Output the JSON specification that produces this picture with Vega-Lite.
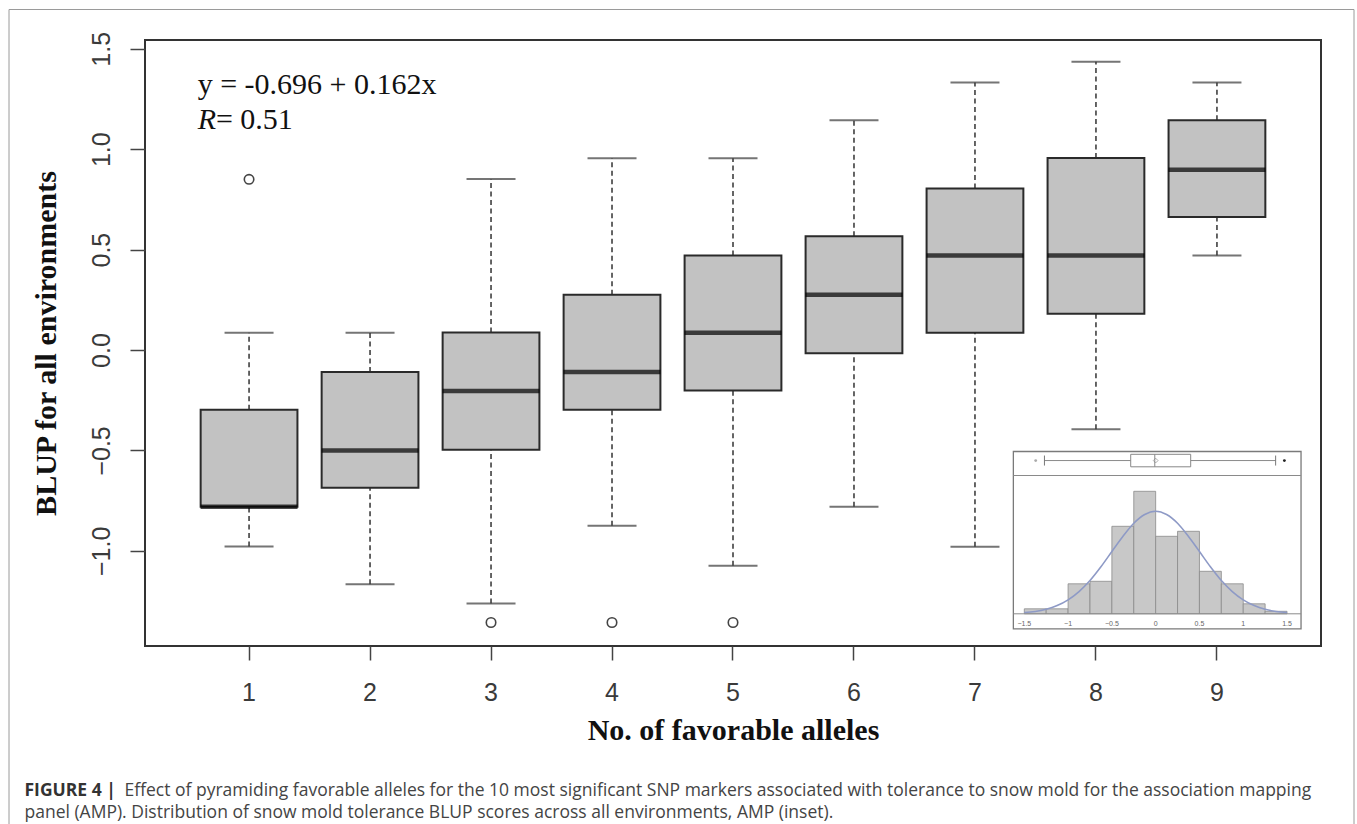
{
  "$schema": "https://vega.github.io/schema/vega-lite/v6.json",
  "width": 1176,
  "height": 606,
  "padding": {"left": 8, "top": 9, "right": 4, "bottom": 0},
  "background": "white",
  "datasets": {
    "boxes": [
      {"n": "1", "lower": -0.978, "q1": -0.78, "median": -0.78, "q3": -0.298, "upper": 0.086},
      {"n": "2", "lower": -1.166, "q1": -0.686, "median": -0.5, "q3": -0.11, "upper": 0.086},
      {"n": "3", "lower": -1.262, "q1": -0.497, "median": -0.204, "q3": 0.087, "upper": 0.852},
      {"n": "4", "lower": -0.875, "q1": -0.298, "median": -0.11, "q3": 0.275, "upper": 0.955},
      {"n": "5", "lower": -1.074, "q1": -0.202, "median": 0.086, "q3": 0.471, "upper": 0.955},
      {"n": "6", "lower": -0.78, "q1": -0.016, "median": 0.275, "q3": 0.566, "upper": 1.144},
      {"n": "7", "lower": -0.98, "q1": 0.086, "median": 0.471, "q3": 0.804, "upper": 1.332},
      {"n": "8", "lower": -0.395, "q1": 0.18, "median": 0.471, "q3": 0.956, "upper": 1.435},
      {"n": "9", "lower": 0.471, "q1": 0.662, "median": 0.898, "q3": 1.144, "upper": 1.332}
    ],
    "outliers": [
      {"n": "1", "v": 0.85},
      {"n": "3", "v": -1.357},
      {"n": "4", "v": -1.357},
      {"n": "5", "v": -1.357}
    ],
    "hist": [
      {"x0": -1.5, "x1": -1.25, "count": 2},
      {"x0": -1.25, "x1": -1.0, "count": 2},
      {"x0": -1.0, "x1": -0.75, "count": 12},
      {"x0": -0.75, "x1": -0.5, "count": 13},
      {"x0": -0.5, "x1": -0.25, "count": 35},
      {"x0": -0.25, "x1": 0.0, "count": 49},
      {"x0": 0.0, "x1": 0.25, "count": 31},
      {"x0": 0.25, "x1": 0.5, "count": 33},
      {"x0": 0.5, "x1": 0.75, "count": 17},
      {"x0": 0.75, "x1": 1.0, "count": 12},
      {"x0": 1.0, "x1": 1.25, "count": 4},
      {"x0": 1.25, "x1": 1.5, "count": 1}
    ],
    "curve": [
      {"x": -1.5, "y": 0.5},
      {"x": -1.375, "y": 0.9},
      {"x": -1.25, "y": 1.8},
      {"x": -1.125, "y": 3.3},
      {"x": -1.0, "y": 5.6},
      {"x": -0.875, "y": 8.9},
      {"x": -0.75, "y": 13.3},
      {"x": -0.625, "y": 18.8},
      {"x": -0.5, "y": 24.9},
      {"x": -0.375, "y": 30.9},
      {"x": -0.25, "y": 36.2},
      {"x": -0.125, "y": 39.7},
      {"x": 0.0, "y": 41.0},
      {"x": 0.125, "y": 39.7},
      {"x": 0.25, "y": 36.2},
      {"x": 0.375, "y": 30.9},
      {"x": 0.5, "y": 24.9},
      {"x": 0.625, "y": 18.8},
      {"x": 0.75, "y": 13.3},
      {"x": 0.875, "y": 8.9},
      {"x": 1.0, "y": 5.6},
      {"x": 1.125, "y": 3.3},
      {"x": 1.25, "y": 1.8},
      {"x": 1.375, "y": 0.9},
      {"x": 1.5, "y": 0.5}
    ],
    "insetTicks": [
      {"v": -1.5}, {"v": -1.0}, {"v": -0.5}, {"v": 0.0}, {"v": 0.5}, {"v": 1.0}, {"v": 1.5}
    ],
    "insetBox": [
      {"lo": -1.27, "q1": -0.285, "med": -0.01, "mean": 0.0, "q3": 0.4, "hi": 1.37}
    ],
    "insetOut": [
      {"v": -1.37, "kind": "a"},
      {"v": 1.47, "kind": "b"}
    ]
  },
  "layer": [
    {
      "data": {"name": "boxes"},
      "layer": [
        {
          "mark": {"type": "rule", "strokeDash": [5, 3.5], "color": "#333333", "strokeWidth": 1.5},
          "encoding": {
            "x": {
              "field": "n", "type": "nominal",
              "scale": {"type": "band", "domain": ["1", "2", "3", "4", "5", "6", "7", "8", "9"], "paddingInner": 0.2, "paddingOuter": 0.46},
              "axis": {
                "title": "No. of favorable alleles",
                "titleFont": "Liberation Serif", "titleFontSize": 30, "titleFontWeight": "bold", "titleColor": "#111111", "titlePadding": 10,
                "labelFont": "Liberation Sans", "labelFontSize": 25, "labelColor": "#3a3a3a", "labelAngle": 0, "labelPadding": 20,
                "tickSize": 14, "tickWidth": 1.5, "tickColor": "#444444", "domain": false, "grid": false
              }
            },
            "y": {
              "field": "q3", "type": "quantitative",
              "scale": {"domain": [-1.474, 1.5438], "nice": false, "zero": false},
              "axis": {
                "title": "BLUP for all environments",
                "titleFont": "Liberation Serif", "titleFontSize": 30, "titleFontWeight": "bold", "titleColor": "#111111", "titlePadding": 28,
                "labelFont": "Liberation Sans", "labelFontSize": 25, "labelColor": "#3a3a3a", "labelAngle": -90, "labelAlign": "center", "labelBaseline": "bottom", "labelPadding": 16,
                "values": [-1, -0.5, 0, 0.5, 1, 1.5], "format": ".1f",
                "tickSize": 15, "tickWidth": 1.5, "tickColor": "#444444", "domain": false, "grid": false
              }
            },
            "y2": {"field": "upper"}
          }
        },
        {
          "mark": {"type": "rule", "strokeDash": [5, 3.5], "color": "#333333", "strokeWidth": 1.5},
          "encoding": {
            "x": {"field": "n", "type": "nominal"},
            "y": {"field": "lower", "type": "quantitative"},
            "y2": {"field": "q1"}
          }
        },
        {
          "mark": {"type": "tick", "size": 49, "thickness": 2, "color": "#3a3a3a"},
          "encoding": {
            "x": {"field": "n", "type": "nominal"},
            "y": {"field": "upper", "type": "quantitative"}
          }
        },
        {
          "mark": {"type": "tick", "size": 49, "thickness": 2, "color": "#3a3a3a"},
          "encoding": {
            "x": {"field": "n", "type": "nominal"},
            "y": {"field": "lower", "type": "quantitative"}
          }
        },
        {
          "mark": {"type": "rect", "fill": "#c2c2c2", "stroke": "#2a2a2a", "strokeWidth": 2},
          "encoding": {
            "x": {"field": "n", "type": "nominal"},
            "y": {"field": "q1", "type": "quantitative"},
            "y2": {"field": "q3"}
          }
        },
        {
          "mark": {"type": "tick", "size": 97, "thickness": 4.5, "color": "#000000"},
          "encoding": {
            "x": {"field": "n", "type": "nominal"},
            "y": {"field": "median", "type": "quantitative"}
          }
        },
        {
          "data": {"name": "outliers"},
          "mark": {"type": "point", "shape": "circle", "filled": false, "size": 90, "stroke": "#444444", "strokeWidth": 1.6, "opacity": 1},
          "encoding": {
            "x": {"field": "n", "type": "nominal"},
            "y": {"field": "v", "type": "quantitative"}
          }
        },
        {
          "data": {"values": [{"label": "y = -0.696 + 0.162x"}]},
          "mark": {"type": "text", "font": "Liberation Serif", "fontSize": 30, "align": "left", "baseline": "alphabetic", "dx": -51.4, "color": "#111111"},
          "encoding": {
            "x": {"datum": "1", "type": "nominal"},
            "y": {"datum": 1.276, "type": "quantitative"},
            "text": {"field": "label"}
          }
        },
        {
          "data": {"values": [{"label": "R"}]},
          "mark": {"type": "text", "font": "Liberation Serif", "fontSize": 30, "fontStyle": "italic", "align": "left", "baseline": "alphabetic", "dx": -51.4, "color": "#111111"},
          "encoding": {
            "x": {"datum": "1", "type": "nominal"},
            "y": {"datum": 1.1016, "type": "quantitative"},
            "text": {"field": "label"}
          }
        },
        {
          "data": {"values": [{"label": "= 0.51"}]},
          "mark": {"type": "text", "font": "Liberation Serif", "fontSize": 30, "align": "left", "baseline": "alphabetic", "dx": -33.1, "color": "#111111"},
          "encoding": {
            "x": {"datum": "1", "type": "nominal"},
            "y": {"datum": 1.1016, "type": "quantitative"},
            "text": {"field": "label"}
          }
        }
      ]
    },
    {
      "layer": [
        {
          "data": {"values": [{}]},
          "mark": {"type": "rect", "filled": false, "stroke": "#9a9a9a", "strokeWidth": 1, "clip": false},
          "encoding": {
            "x": {"datum": -13.094, "type": "quantitative", "scale": {"domain": [-11.541, 1.888], "nice": false, "zero": false}, "axis": null},
            "x2": {"datum": 2.265},
            "y": {"datum": 241.72, "type": "quantitative", "scale": {"domain": [-12.88, 229.52], "nice": false, "zero": false}, "axis": null},
            "y2": {"datum": -87.48}
          }
        },
        {
          "data": {"values": [{"t": "FIGURE 4 |"}]},
          "mark": {"type": "text", "font": "Open Sans", "fontSize": 17.5, "fontWeight": "bold", "color": "#333333", "align": "left", "baseline": "alphabetic"},
          "encoding": {
            "x": {"datum": -12.917, "type": "quantitative", "axis": null},
            "y": {"datum": -72.72, "type": "quantitative", "axis": null},
            "text": {"field": "t"}
          }
        },
        {
          "data": {"values": [{"t": "Effect of pyramiding favorable alleles for the 10 most significant SNP markers associated with tolerance to snow mold for the association mapping"}]},
          "mark": {"type": "text", "font": "Open Sans", "fontSize": 17.5, "color": "#444444", "align": "left", "baseline": "alphabetic"},
          "encoding": {
            "x": {"datum": -11.775, "type": "quantitative", "axis": null},
            "y": {"datum": -72.72, "type": "quantitative", "axis": null},
            "text": {"field": "t"}
          }
        },
        {
          "data": {"values": [{"t": "panel (AMP). Distribution of snow mold tolerance BLUP scores across all environments, AMP (inset)."}]},
          "mark": {"type": "text", "font": "Open Sans", "fontSize": 17.5, "color": "#444444", "align": "left", "baseline": "alphabetic"},
          "encoding": {
            "x": {"datum": -12.917, "type": "quantitative", "axis": null},
            "y": {"datum": -81.52, "type": "quantitative", "axis": null},
            "text": {"field": "t"}
          }
        },
        {
          "data": {"values": [{}]},
          "mark": {"type": "rect", "fill": "white", "stroke": "#7a7a7a", "strokeWidth": 1.3},
          "encoding": {
            "x": {"datum": -1.625, "type": "quantitative", "axis": null},
            "x2": {"datum": 1.66},
            "y": {"datum": -6.0, "type": "quantitative", "axis": null},
            "y2": {"datum": 64.92}
          }
        },
        {
          "data": {"values": [{}]},
          "mark": {"type": "rule", "color": "#8a8a8a", "strokeWidth": 1},
          "encoding": {
            "x": {"datum": -1.625, "type": "quantitative", "axis": null},
            "x2": {"datum": 1.66},
            "y": {"datum": 55.32, "type": "quantitative", "axis": null}
          }
        },
        {
          "data": {"name": "hist"},
          "mark": {"type": "rect", "fill": "#c8c8c8", "stroke": "#8a8a8a", "strokeWidth": 0.8},
          "encoding": {
            "x": {"field": "x0", "type": "quantitative", "axis": null},
            "x2": {"field": "x1"},
            "y": {"field": "count", "type": "quantitative", "axis": null},
            "y2": {"datum": 0}
          }
        },
        {
          "data": {"values": [{}]},
          "mark": {"type": "rule", "color": "#8a8a8a", "strokeWidth": 1},
          "encoding": {
            "x": {"datum": -1.625, "type": "quantitative", "axis": null},
            "x2": {"datum": 1.66},
            "y": {"datum": 0, "type": "quantitative", "axis": null}
          }
        },
        {
          "data": {"name": "curve"},
          "mark": {"type": "line", "color": "#8e9ac6", "strokeWidth": 1.6, "interpolate": "monotone"},
          "encoding": {
            "x": {"field": "x", "type": "quantitative", "axis": null},
            "y": {"field": "y", "type": "quantitative", "axis": null}
          }
        },
        {
          "data": {"name": "insetTicks"},
          "mark": {"type": "text", "font": "Liberation Sans", "fontSize": 7, "color": "#666666", "baseline": "middle"},
          "encoding": {
            "x": {"field": "v", "type": "quantitative", "axis": null},
            "y": {"datum": -4.0, "type": "quantitative", "axis": null},
            "text": {"field": "v", "type": "quantitative", "format": ".1~f"}
          }
        },
        {
          "data": {"name": "insetBox"},
          "mark": {"type": "rule", "color": "#8a8a8a", "strokeWidth": 1},
          "encoding": {
            "x": {"field": "lo", "type": "quantitative", "axis": null},
            "x2": {"field": "hi"},
            "y": {"datum": 61.3, "type": "quantitative", "axis": null}
          }
        },
        {
          "data": {"name": "insetBox"},
          "mark": {"type": "rule", "color": "#777777", "strokeWidth": 1},
          "encoding": {
            "x": {"field": "lo", "type": "quantitative", "axis": null},
            "y": {"datum": 59.3, "type": "quantitative", "axis": null},
            "y2": {"datum": 63.3}
          }
        },
        {
          "data": {"name": "insetBox"},
          "mark": {"type": "rule", "color": "#777777", "strokeWidth": 1},
          "encoding": {
            "x": {"field": "hi", "type": "quantitative", "axis": null},
            "y": {"datum": 59.3, "type": "quantitative", "axis": null},
            "y2": {"datum": 63.3}
          }
        },
        {
          "data": {"name": "insetBox"},
          "mark": {"type": "rect", "fill": "white", "stroke": "#888888", "strokeWidth": 1},
          "encoding": {
            "x": {"field": "q1", "type": "quantitative", "axis": null},
            "x2": {"field": "q3"},
            "y": {"datum": 58.8, "type": "quantitative", "axis": null},
            "y2": {"datum": 63.8}
          }
        },
        {
          "data": {"name": "insetBox"},
          "mark": {"type": "rule", "color": "#888888", "strokeWidth": 1},
          "encoding": {
            "x": {"field": "med", "type": "quantitative", "axis": null},
            "y": {"datum": 58.8, "type": "quantitative", "axis": null},
            "y2": {"datum": 63.8}
          }
        },
        {
          "data": {"name": "insetBox"},
          "mark": {"type": "point", "shape": "diamond", "filled": false, "size": 22, "stroke": "#888888", "strokeWidth": 1},
          "encoding": {
            "x": {"field": "mean", "type": "quantitative", "axis": null},
            "y": {"datum": 61.3, "type": "quantitative", "axis": null}
          }
        },
        {
          "data": {"name": "insetOut"},
          "mark": {"type": "point", "shape": "circle", "filled": true, "size": 8, "opacity": 1},
          "encoding": {
            "x": {"field": "v", "type": "quantitative", "axis": null},
            "y": {"datum": 61.3, "type": "quantitative", "axis": null},
            "color": {"field": "kind", "type": "nominal", "scale": {"domain": ["a", "b"], "range": ["#aaaaaa", "#222222"]}, "legend": null}
          }
        }
      ]
    }
  ],
  "resolve": {"scale": {"x": "independent", "y": "independent"}},
  "config": {
    "view": {"stroke": "#333333", "strokeWidth": 2}
  }
}
